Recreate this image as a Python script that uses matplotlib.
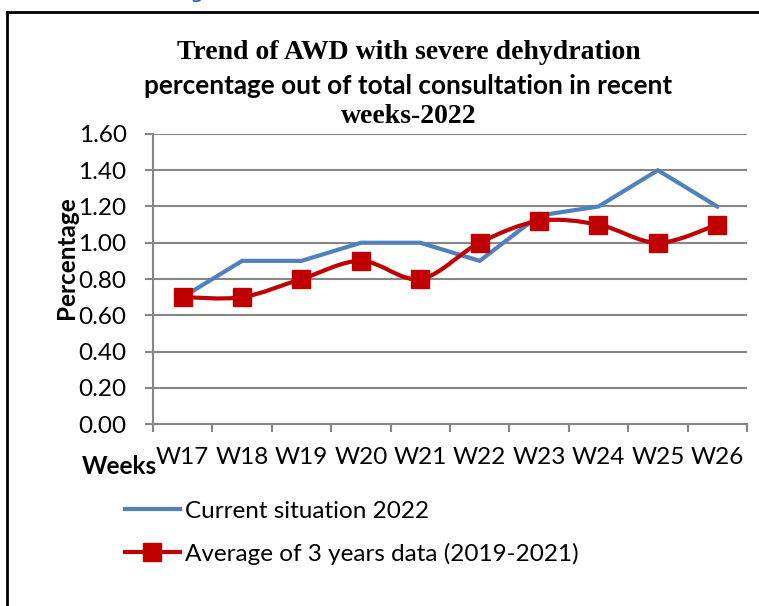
#!/usr/bin/env python3

"""Trend of AWD with severe dehydration, percentage of total consultations,
   current 2022 weeks vs the 2019-2021 average."""

import matplotlib.pyplot as plt
from matplotlib.lines import Line2D
from matplotlib.path import Path
from matplotlib.patches import PathPatch

weeks = ["W17", "W18", "W19", "W20", "W21", "W22", "W23", "W24", "W25", "W26"]
current_2022 = [0.70, 0.90, 0.90, 1.00, 1.00, 0.90, 1.15, 1.20, 1.40, 1.20]
average_3yr = [0.70, 0.70, 0.80, 0.90, 0.80, 1.00, 1.12, 1.10, 1.00, 1.10]
yticks = [0.0, 0.2, 0.4, 0.6, 0.8, 1.0, 1.2, 1.4, 1.6]

blue = "#4F81BD"
red = "#C00000"
grid = "#868686"
sans = "Lato"
serif = "Liberation Serif"
fs = 17.5


def smooth_path(xs, ys):
    # Catmull-Rom style bezier through the points, like Excel's smoothed line
    pts = list(zip(xs, ys))
    verts = [pts[0]]
    codes = [Path.MOVETO]
    n = len(pts)
    for i in range(n - 1):
        p0 = pts[i - 1] if i > 0 else pts[i]
        p1 = pts[i]
        p2 = pts[i + 1]
        p3 = pts[i + 2] if i + 2 < n else pts[i + 1]
        c1 = (p1[0] + (p2[0] - p0[0]) / 6, p1[1] + (p2[1] - p0[1]) / 6)
        c2 = (p2[0] - (p3[0] - p1[0]) / 6, p2[1] - (p3[1] - p1[1]) / 6)
        verts += [c1, c2, p2]
        codes += [Path.CURVE4] * 3
    return Path(verts, codes)


fig = plt.figure(figsize=(7.59, 6.06), dpi=100)
ax = fig.add_axes([0.2016, 0.3003, 0.7825, 0.4786])

x = list(range(len(weeks)))
ax.plot(x, current_2022, color=blue, lw=3, solid_joinstyle="miter",
        label="Current situation 2022", zorder=3)
ax.add_patch(PathPatch(smooth_path(x, average_3yr), fill=False,
                       edgecolor=red, lw=3, zorder=4))
ax.plot(x, average_3yr, ls="none", marker="s", ms=13, color=red, zorder=5)
legend_red = Line2D([], [], color=red, lw=3, marker="s", ms=13)

ax.set_xlim(-0.5, len(weeks) - 0.5)
ax.set_ylim(0, 1.6)
ax.set_yticks(yticks)
ax.set_yticklabels([f"{v:.2f}" for v in yticks], fontsize=fs, family=sans)
ax.set_xticks([i + 0.5 for i in range(-1, len(weeks))])
ax.set_xticklabels([])
ax.set_xticks(x, minor=True)
ax.set_xticklabels(weeks, minor=True, fontsize=fs, family=sans)
ax.tick_params(axis="x", which="minor", length=0, pad=16.5)
ax.tick_params(axis="both", which="major", length=6, width=1.5, color=grid)
ax.tick_params(axis="y", pad=13)
ax.grid(axis="y", color=grid, lw=1.5)
ax.set_axisbelow(True)
for side in ["top", "right"]:
    ax.spines[side].set_visible(False)
for side in ["left", "bottom"]:
    ax.spines[side].set_color(grid)
    ax.spines[side].set_linewidth(1.5)

ax.set_ylabel("Percentage", fontsize=fs, fontweight="bold", family=sans)
ax.yaxis.label.set_va("center")
ax.yaxis.set_label_coords(-0.145, 0.575)
fig.text(0.108, 0.23, "Weeks", fontsize=fs, fontweight="bold", family=sans,
         ha="left", va="center")

fig.text(0.538, 0.914, "Trend of AWD with severe dehydration", fontsize=20,
         fontweight="bold", family=serif, ha="center", va="center")
fig.text(0.538, 0.858, "percentage out of total consultation in recent",
         fontsize=18.8, fontweight="bold", family=sans, ha="center", va="center")
fig.text(0.538, 0.808, "weeks-2022", fontsize=20,
         fontweight="bold", family=serif, ha="center", va="center")

fig.legend([ax.lines[0], legend_red],
           ["Current situation 2022", "Average of 3 years data (2019-2021)"],
           loc="upper left", bbox_to_anchor=(0.1647, 0.174), frameon=False,
           borderpad=0, borderaxespad=0,
           prop={"family": sans, "size": fs}, handlelength=2.26,
           handletextpad=0.2, labelspacing=0.86, numpoints=1)

# frame of the original figure box and a cut-off heading above it
fig.add_artist(Line2D([0.0092, 0.0092], [0.0, 0.98], color="black", lw=2))
fig.add_artist(Line2D([0.0092, 1.0], [0.98, 0.98], color="black", lw=2))
fig.text(0.25, 1.0 + 1.5 / 606, "g", fontsize=16, color="#2E5C9A",
         ha="left", va="baseline")

plt.savefig("out.png", dpi=100)
